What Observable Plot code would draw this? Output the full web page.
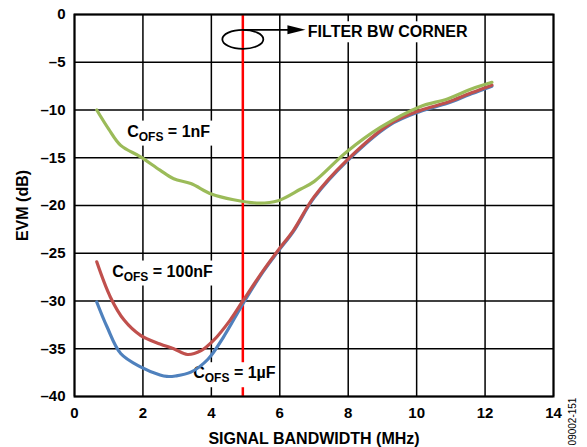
<!DOCTYPE html>
<html><head><meta charset="utf-8">
<script src="https://cdn.jsdelivr.net/npm/d3@7"></script>
<script src="https://cdn.jsdelivr.net/npm/@observablehq/plot@0.6"></script>
<style>
body{margin:0;background:#fff}
#chart svg{font-family:"Liberation Sans",Arial,sans-serif}
</style>
</head><body><div id="chart"></div>
<script>
// ---- data ----
const xTicks = [0, 2, 4, 6, 8, 10, 12, 14];
const yTicks = [0, -5, -10, -15, -20, -25, -30, -35, -40];
const filterCorner = 4.92; // MHz

const bw1nF  = [0.65, 1.0, 1.35, 1.93, 2.5, 2.9, 3.4, 4.0, 4.65, 5.4, 5.95, 6.6, 7.0, 7.95, 8.95, 10.1, 10.9, 11.6, 12.2];
const evm1nF = [-10.0, -12.0, -13.7, -14.9, -16.3, -17.2, -17.7, -18.8, -19.4, -19.75, -19.5, -18.3, -17.5, -14.4, -11.8, -9.65, -8.85, -7.8, -7.1];

const bw100nF  = [0.65, 1.05, 1.45, 1.93, 2.5, 2.9, 3.3, 3.7, 4.07, 4.55, 4.92, 5.5, 5.95, 6.4, 7.0, 7.95, 9.2, 10.1, 10.9, 11.6, 12.2];
const evm100nF = [-25.9, -29.6, -32.0, -33.6, -34.5, -35.0, -35.6, -35.2, -34.1, -32.0, -30.0, -26.9, -24.7, -22.6, -19.1, -15.3, -11.5, -10.05, -9.2, -8.2, -7.4];

const bw1uF  = [0.65, 0.95, 1.35, 1.93, 2.5, 2.7, 2.95, 3.4, 3.9, 4.35, 4.92, 5.5, 5.95, 6.4, 7.0, 7.95, 9.2, 10.1, 10.9, 11.6, 12.2];
const evm1uF = [-30.1, -32.7, -35.5, -36.9, -37.75, -37.9, -37.85, -37.45, -36.1, -33.8, -30.3, -27.0, -24.8, -22.7, -19.2, -15.4, -11.6, -10.15, -9.3, -8.3, -7.5];

const seriesColors = ["#4f81bd", "#c0504d", "#9bbb59"]; // 1µF, 100nF, 1nF

const curveLabels = ["C_OFS = 1nF", "C_OFS = 100nF", "C_OFS = 1µF"];
const curveLabelX = [1.54, 1.10, 3.47];
const curveLabelY = [-12.25, -26.9, -37.55];

const noteText = "FILTER BW CORNER";
const noteX = 6.82, noteY = -1.85;
const ellipseY = -2.6;
const arrowY = -1.6, arrowTipX = 6.75;

const xLabel = "SIGNAL BANDWIDTH (MHz)";
const yLabel = "EVM (dB)";
const figId = "09002-151";

// ---- tables built from arrays ----
const toRows = (xs, ys) => xs.map((x, i) => ({x, y: ys[i]}));
const rows = [toRows(bw1uF, evm1uF), toRows(bw100nF, evm100nF), toRows(bw1nF, evm1nF)];
const labelRows = curveLabels.map((t, i) => ({text: t, x: curveLabelX[i], y: curveLabelY[i]}));

const ellipseSymbol = {draw(ctx) {
  const rx = 20.5, ry = 9.5, k = 0.5523;
  ctx.moveTo(rx, 0);
  ctx.bezierCurveTo(rx, ry * k, rx * k, ry, 0, ry);
  ctx.bezierCurveTo(-rx * k, ry, -rx, ry * k, -rx, 0);
  ctx.bezierCurveTo(-rx, -ry * k, -rx * k, -ry, 0, -ry);
  ctx.bezierCurveTo(rx * k, -ry, rx, -ry * k, rx, 0);
  ctx.closePath();
}};
const headSymbol = {draw(ctx) {
  ctx.moveTo(0, 0); ctx.lineTo(-18, -4.5); ctx.lineTo(-18, 4.5); ctx.closePath();
}};

const font = "Liberation Sans, Arial, sans-serif";
const minusFmt = d => d === 0 ? "0" : "\u2013" + Math.abs(d);

const chart = Plot.plot({
  width: 587, height: 447,
  marginLeft: 74, marginRight: 34, marginTop: 14, marginBottom: 51,
  style: {fontFamily: font, background: "white", color: "black"},
  x: {domain: [0, 14], label: null},
  y: {domain: [-40, 0], label: null},
  marks: [
    Plot.gridX(xTicks, {stroke: "#000", strokeOpacity: 1, strokeWidth: 1.5}),
    Plot.gridY(yTicks, {stroke: "#000", strokeOpacity: 1, strokeWidth: 1.5}),
    Plot.ruleX([filterCorner], {stroke: "#ff0000", strokeWidth: 2.5}),
    Plot.text(labelRows, {x: "x", y: "y", text: "text", textAnchor: "start", fontSize: 16, fontWeight: "bold", fill: "#000"}),
    Plot.text([noteText], {x: [noteX], y: [noteY], text: d => d, textAnchor: "start", fontSize: 16, fontWeight: "bold", fill: "#000"}),
    Plot.dot([filterCorner], {x: d => d, y: [ellipseY], symbol: ellipseSymbol, r: 10, fill: "none", stroke: "#000", strokeWidth: 1.8}),
    Plot.link([filterCorner], {x1: d => d, y1: [arrowY], x2: [arrowTipX - 0.4], y2: [arrowY], stroke: "#000", strokeWidth: 1.8}),
    Plot.dot([arrowTipX], {x: d => d, y: [arrowY], symbol: headSymbol, r: 5, fill: "#000", stroke: "none"}),
    ...rows.map((r, i) => Plot.line(r, {x: "x", y: "y", stroke: seriesColors[i], strokeWidth: 3.2, curve: "catmull-rom"})),
    Plot.frame({stroke: "#000", strokeWidth: 2}),
    Plot.axisX(xTicks, {tickSize: 0, tickPadding: 11, fontSize: 15, fontWeight: "bold", label: null, tickFormat: d => String(d)}),
    Plot.axisY(yTicks, {tickSize: 0, tickPadding: 9, fontSize: 15, fontWeight: "bold", label: null, tickFormat: minusFmt}),
    Plot.text([xLabel], {frameAnchor: "bottom", dy: 42, textAnchor: "middle", lineAnchor: "middle", text: d => d, fontSize: 16, fontWeight: "bold", fill: "#000"}),
    Plot.text([yLabel], {frameAnchor: "left", dx: -51.5, rotate: -90, textAnchor: "middle", lineAnchor: "middle", text: d => d, fontSize: 16, fontWeight: "bold", fill: "#000"}),
    Plot.text([figId], {frameAnchor: "bottom-right", dx: 19, dy: 25, rotate: -90, textAnchor: "middle", lineAnchor: "middle", text: d => d, fontSize: 10, fill: "#000"})
  ]
});
document.getElementById("chart").append(chart);

// subscripts and white label boxes
const NS = "http://www.w3.org/2000/svg";
const boxed = new Set([...curveLabels, noteText]);
Array.from(chart.querySelectorAll("text")).filter(t => boxed.has(t.textContent)).forEach(t => {
  const s = t.textContent;
  const m = s.match(/^C_(\w+)(.*)$/);
  if (m) {
    t.textContent = "";
    const a = document.createElementNS(NS, "tspan"); a.textContent = "C";
    const b = document.createElementNS(NS, "tspan"); b.textContent = m[1]; b.setAttribute("font-size", "12"); b.setAttribute("dy", "4");
    const c = document.createElementNS(NS, "tspan"); c.textContent = m[2]; c.setAttribute("dy", "-4");
    t.append(a, b, c);
  }
  const bb = t.getBBox();
  const rect = document.createElementNS(NS, "rect");
  rect.setAttribute("x", bb.x - 3);
  rect.setAttribute("y", bb.y - 2);
  rect.setAttribute("width", bb.width + 6);
  rect.setAttribute("height", bb.height + 4);
  rect.setAttribute("fill", "white");
  rect.setAttribute("stroke", "none");
  if (t.getAttribute("transform")) rect.setAttribute("transform", t.getAttribute("transform"));
  t.parentNode.insertBefore(rect, t);
});
</script>
</body></html>
